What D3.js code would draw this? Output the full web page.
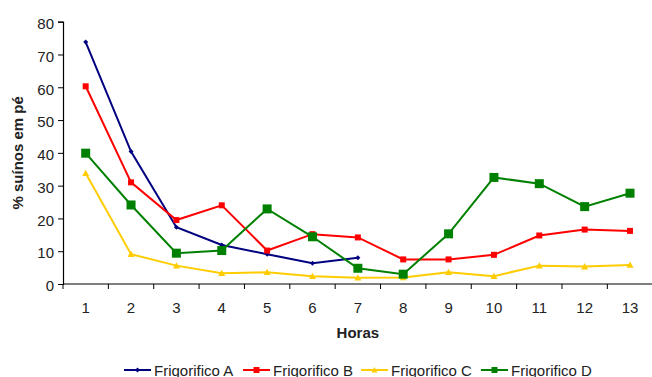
<!DOCTYPE html>
<html>
<head>
<meta charset="utf-8">
<script src="https://cdn.jsdelivr.net/npm/d3@7/dist/d3.min.js"></script>
<style>
  html, body { margin: 0; padding: 0; background: #fff; }
  svg { display: block; font-family: "Liberation Sans", Arial, sans-serif; }
</style>
</head>
<body>
<svg id="chart" width="652" height="377"></svg>
<script>
// Hours (categories on the x axis)
const horas = ["1","2","3","4","5","6","7","8","9","10","11","12","13"];
// % of pigs standing, per slaughterhouse
const frigA = [73.8, 40.4, 17.3, 11.9, 9.1, 6.3, 8.0];
const frigB = [60.3, 31.0, 19.5, 24.0, 10.2, 15.2, 14.2, 7.5, 7.5, 8.9, 14.8, 16.6, 16.2];
const frigC = [33.8, 9.1, 5.6, 3.3, 3.6, 2.4, 1.9, 2.0, 3.6, 2.4, 5.6, 5.3, 5.8];
const frigD = [39.9, 24.1, 9.4, 10.2, 22.9, 14.4, 4.8, 3.0, 15.3, 32.5, 30.6, 23.6, 27.7];
const yTicks = [0, 10, 20, 30, 40, 50, 60, 70, 80];
const seriesNames = ["Frigorifico A", "Frigorifico B", "Frigorifico C", "Frigorifico D"];

const series = [
  { name: seriesNames[0], values: frigA, color: "#000080", marker: "diamond", size: 5 },
  { name: seriesNames[1], values: frigB, color: "#ff0000", marker: "square", size: 6 },
  { name: seriesNames[2], values: frigC, color: "#ffcc00", marker: "triangle", size: 7 },
  { name: seriesNames[3], values: frigD, color: "#008000", marker: "square", size: 9 }
];

const svg = d3.select("#chart");
const plotLeft = 63, plotRight = 652.7, plotTop = 21.7, plotBottom = 284;

const x = d3.scaleBand().domain(horas).range([plotLeft, plotRight]);
const y = d3.scaleLinear().domain([0, 80]).range([plotBottom, plotTop]);
const cx = h => x(h) + x.bandwidth() / 2;

// Y axis
const yAxis = svg.append("g")
  .attr("transform", `translate(${plotLeft},0)`)
  .call(d3.axisLeft(y).tickValues(yTicks).tickSize(5).tickPadding(4).tickFormat(d3.format("d")));
yAxis.select(".domain").attr("stroke", "#000").attr("stroke-width", 1.2);
yAxis.selectAll(".tick line").attr("stroke", "#000");
yAxis.selectAll(".tick text")
  .attr("font-size", 15).attr("fill", "#222").attr("font-family", "Liberation Sans, Arial, sans-serif")
  .attr("dy", "0.45em");

// X axis: ticks sit on the category boundaries
const xAxis = svg.append("g")
  .attr("transform", `translate(0,${plotBottom})`);
xAxis.append("line")
  .attr("x1", plotLeft).attr("x2", plotRight).attr("y1", 0).attr("y2", 0)
  .attr("stroke", "#000").attr("stroke-width", 1.2);
xAxis.selectAll("line.tk")
  .data(horas)
  .join("line")
  .attr("class", "tk")
  .attr("x1", d => x(d)).attr("x2", d => x(d))
  .attr("y1", 0).attr("y2", 5)
  .attr("stroke", "#000");
xAxis.selectAll("text")
  .data(horas)
  .join("text")
  .attr("x", d => cx(d))
  .attr("y", 28.5)
  .attr("text-anchor", "middle")
  .attr("font-size", 15)
  .attr("fill", "#222")
  .text(d => d);

// Axis titles
svg.append("text")
  .attr("x", (plotLeft + plotRight) / 2).attr("y", 338)
  .attr("text-anchor", "middle")
  .attr("font-size", 15).attr("font-weight", "bold").attr("fill", "#222")
  .text("Horas");
svg.append("text")
  .attr("transform", `translate(23,${(plotTop + plotBottom) / 2}) rotate(-90)`)
  .attr("text-anchor", "middle")
  .attr("font-size", 15).attr("font-weight", "bold").attr("fill", "#222")
  .text("% suínos em pé");

function markerPath(type, s) {
  const h = s / 2;
  if (type === "diamond") return `M0,${-h}L${h},0L0,${h}L${-h},0Z`;
  if (type === "triangle") return `M0,${-h}L${h},${h * 0.8}L${-h},${h * 0.8}Z`;
  return `M${-h},${-h}H${h}V${h}H${-h}Z`;
}

const line = d3.line()
  .x((d, i) => cx(horas[i]))
  .y(d => y(d));

const plot = svg.append("g");
series.forEach(s => {
  plot.append("path")
    .datum(s.values)
    .attr("fill", "none")
    .attr("stroke", s.color)
    .attr("stroke-width", 2)
    .attr("d", line);
  plot.selectAll(null)
    .data(s.values)
    .join("path")
    .attr("transform", (d, i) => `translate(${cx(horas[i])},${y(d)})`)
    .attr("d", markerPath(s.marker, s.size))
    .attr("fill", s.color);
});

// Legend
const legendX = [124, 243, 361, 481];
const legend = svg.append("g");
series.forEach((s, i) => {
  const g = legend.append("g").attr("transform", `translate(${legendX[i]},370)`);
  g.append("line").attr("x1", 0).attr("x2", 27).attr("y1", 0).attr("y2", 0)
    .attr("stroke", s.color).attr("stroke-width", 2);
  g.append("path").attr("transform", "translate(13.5,0)")
    .attr("d", markerPath(s.marker, Math.min(s.size, 6)))
    .attr("fill", s.color);
  g.append("text").attr("x", 30).attr("y", 5.5)
    .attr("font-size", 15).attr("fill", "#222")
    .text(s.name);
});
</script>
</body>
</html>
